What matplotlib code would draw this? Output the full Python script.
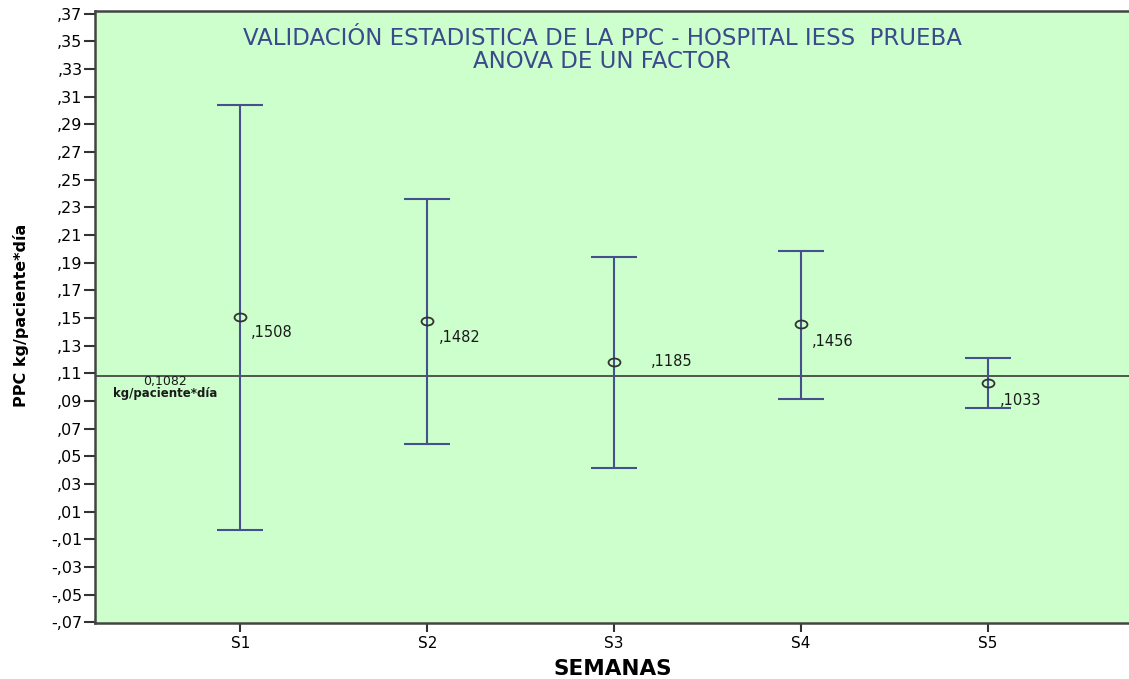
import matplotlib
matplotlib.use('agg')
import matplotlib.pyplot as plt
from matplotlib.path import Path
from matplotlib.transforms import Affine2D
from matplotlib.ticker import FuncFormatter

plt.rcParams['font.family'] = ['DejaVu Sans']

semanas = ['S1', 'S2', 'S3', 'S4', 'S5']
medias = [0.1508, 0.1482, 0.1185, 0.1456, 0.1033]
ic_sup = [0.3039, 0.2362, 0.1943, 0.1985, 0.1212]
ic_inf = [-0.0032, 0.0591, 0.0418, 0.0918, 0.0846]
ppc_ref = 0.1082

# label offsets in pixels (dx, dy) relative to each mean
offs = [(11, -16), (12, -17), (37, 0), (11, -17), (12, -18)]

W, H = 1129, 679
fig = plt.figure(figsize=(W / 100, H / 100), dpi=100)
ax = fig.add_axes([95 / W, 1 - 623 / H, 1 - 95 / W + 0.002, (623 - 11) / H])
ax.set_facecolor('#ccffcc')

x = list(range(1, len(semanas) + 1))
err_lo = [m - l for m, l in zip(medias, ic_inf)]
err_hi = [u - m for m, u in zip(medias, ic_sup)]

# slightly wide circle, like the stretched original
elipse = Path.unit_circle().transformed(Affine2D().scale(1.5, 1.0))

ax.axhline(ppc_ref, color='#3a3a3a', lw=1.2, zorder=1)
ax.errorbar(x, medias, yerr=[err_lo, err_hi], fmt='none', ecolor='#46508e',
            elinewidth=1.5, capsize=16.5, capthick=1.5, zorder=2)
ax.plot(x, medias, marker=elipse, ls='none', mfc='none', mec='#333333',
        ms=8.6, mew=1.3, zorder=3)

for xi, m, (dx, dy) in zip(x, medias, offs):
    ax.annotate(('%.4f' % m).replace('0.', ','), (xi, m), xytext=(dx, dy),
                textcoords='offset pixels', fontsize=10.5, color='#1a1a1a',
                ha='left', va='center')

fig.text(165 / W, 1 - 382 / H, '0,1082', fontsize=9, ha='center', va='center',
         color='#1a1a1a')
fig.text(165 / W, 1 - 393.5 / H, 'kg/paciente*día', fontsize=8.5,
         fontweight='bold', ha='center', va='center', color='#1a1a1a')

ax.set_xlim(0.2225, 5.767)
ax.set_ylim(-0.0705, 0.372)
ax.set_xticks(x)
ax.set_xticklabels(semanas, fontsize=11)
ax.set_yticks([-0.07 + 0.02 * i for i in range(23)])


def fmt(v, pos):
    return ('%.2f' % v).replace('0.', ',')


ax.yaxis.set_major_formatter(FuncFormatter(fmt))
ax.tick_params(axis='y', labelsize=11.5, length=8, width=1.5, color='#333333', pad=1)
ax.tick_params(axis='x', length=6.5, width=1.5, color='#333333', pad=3)

for sp in ['left', 'bottom', 'top']:
    ax.spines[sp].set_linewidth(1.8)
    ax.spines[sp].set_color('#444444')
ax.spines['right'].set_visible(False)

fig.text(21 / W, 1 - 315 / H, 'PPC kg/paciente*día', rotation=90, fontsize=11.5,
         fontweight='bold', ha='center', va='center')
fig.text(613 / W, 1 - 669 / H, 'SEMANAS', fontsize=15.5, fontweight='bold',
         ha='center', va='center')

fig.text(602 / W, 1 - 50 / H,
         'VALIDACIÓN ESTADISTICA DE LA PPC - HOSPITAL IESS  PRUEBA\nANOVA DE UN FACTOR',
         fontsize=16.5, color='#3b4a8c', ha='center', va='center',
         multialignment='center', linespacing=0.95)

fig.savefig('out.png', dpi=100)
